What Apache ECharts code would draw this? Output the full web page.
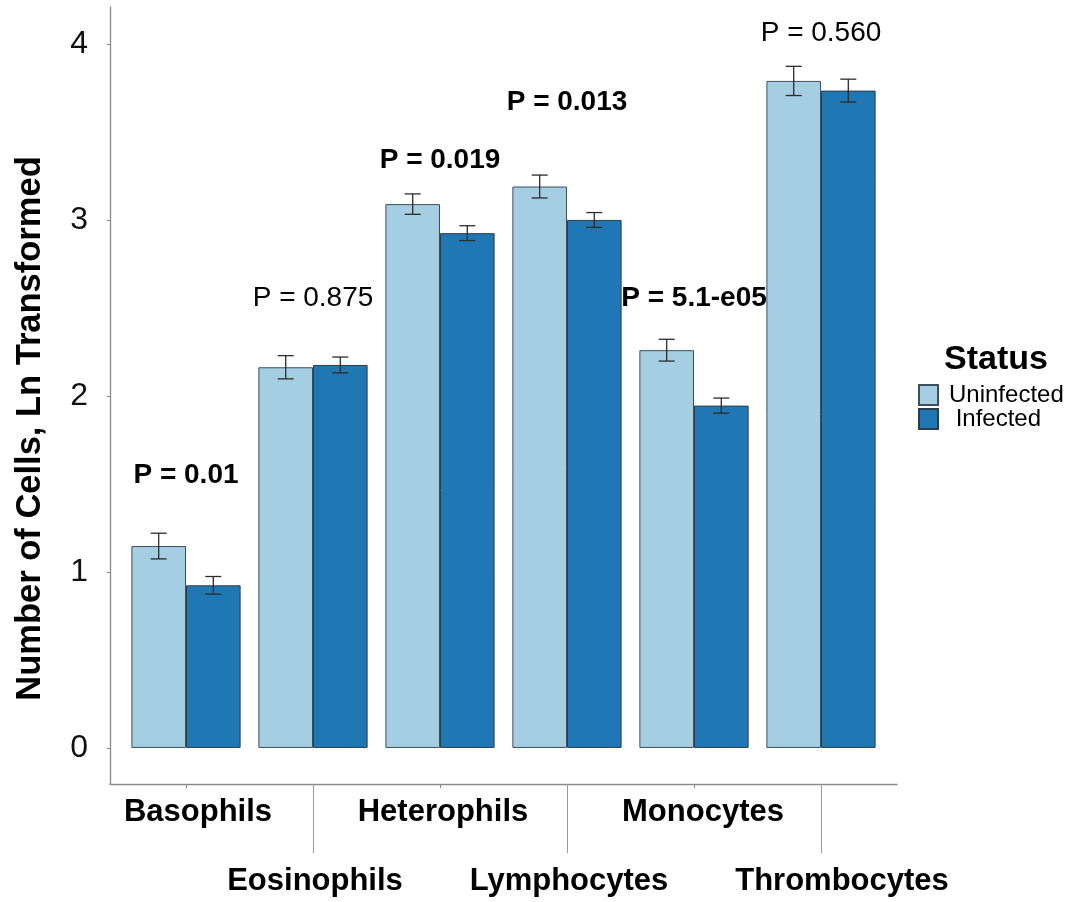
<!DOCTYPE html>
<html>
<head>
<meta charset="utf-8">
<script src="https://cdn.jsdelivr.net/npm/echarts@6/dist/echarts.min.js"></script>
<style>
html,body{margin:0;padding:0;background:#fff;}
#chart{width:1080px;height:902px;}
</style>
</head>
<body>
<div id="chart"></div>
<script>
const categories = ['Basophils','Eosinophils','Heterophils','Lymphocytes','Monocytes','Thrombocytes'];
const uninfected = [1.147, 2.163, 3.09, 3.19, 2.26, 3.79];
const infected   = [0.924, 2.176, 2.925, 3.0, 1.945, 3.735];
const errUninfected = [0.073, 0.066, 0.058, 0.065, 0.062, 0.083];
const errInfected   = [0.05, 0.045, 0.042, 0.042, 0.043, 0.065];
const pLabels = ['P = 0.01','P = 0.875','P = 0.019','P = 0.013','P = 5.1-e05','P = 0.560'];
const pY      = [1.55, 2.557, 3.34, 3.67, 2.557, 4.06];
const pBold   = [true, false, true, true, true, false];
const yTicks  = [0, 1, 2, 3, 4];

const FONT = 'Liberation Sans, Arial, Helvetica, sans-serif';
const Y_MIN = -0.205, Y_MAX = 4.21;
const LIGHT = '#a6cee3', DARK = '#1f78b4';

const chart = echarts.init(document.getElementById('chart'));

function errSeries(name, means, errs, side){
  return {
    type: 'custom', name: name + ' SE', xAxisIndex: 0, yAxisIndex: 0, z: 5,
    data: means.map((m, i) => [i, m, errs[i]]),
    renderItem: function(params, api){
      const i = api.value(0), m = api.value(1), e = api.value(2);
      const band = api.size([1, 0])[0];
      const c = api.coord([i, m]);
      const x = c[0] + side * band * 0.215;
      const yHi = api.coord([i, m + e])[1];
      const yLo = api.coord([i, m - e])[1];
      const hw = 8;
      const st = {stroke: '#2b2b2b', lineWidth: 1.3};
      return {type: 'group', children: [
        {type: 'line', shape: {x1: x, y1: yHi, x2: x, y2: yLo}, style: st},
        {type: 'line', shape: {x1: x - hw, y1: yHi, x2: x + hw, y2: yHi}, style: st},
        {type: 'line', shape: {x1: x - hw, y1: yLo, x2: x + hw, y2: yLo}, style: st}
      ]};
    }
  };
}

// label layout styles (leading indents reproduce the original label placement)
const labelRich = {
  a: {fontFamily: FONT, fontSize: 31, fontWeight: 'bold', color: '#000', lineHeight: 34},
  gap: {fontFamily: FONT, fontSize: 10, lineHeight: 69},
  i0: {width: 24, fontSize: 10, lineHeight: 34},
  i1: {width: 4, fontSize: 10, lineHeight: 34},
  i2: {width: 6, fontSize: 10, lineHeight: 34},
  i3: {width: 4, fontSize: 10, lineHeight: 34},
  i4: {width: 18, fontSize: 10, lineHeight: 34},
  i5: {width: 42, fontSize: 10, lineHeight: 34}
};

const option = {
  backgroundColor: '#fff',
  animation: false,
  textStyle: {fontFamily: FONT},
  title: {
    text: 'Status', left: 944, top: 343, padding: 0,
    textStyle: {fontFamily: FONT, fontSize: 34, fontWeight: 'bold', color: '#000'}
  },
  legend: {
    orient: 'vertical', left: 918, top: 383, itemWidth: 19, itemHeight: 20, itemGap: 0,
    padding: 0,
    icon: 'rect',
    data: ['Uninfected', 'Infected'],
    formatter: n => n === 'Infected' ? ' ' + n : n,
    textStyle: {fontFamily: FONT, fontSize: 24, color: '#000', lineHeight: 20, height: 20, padding: [0, 0, 0, 6]},
    selectedMode: false
  },
  grid: [
    {left: 122.5, width: 762, top: 7, height: 777},
    {left: 110, width: 787, top: 7, height: 777}
  ],
  xAxis: [
    {
      type: 'category', gridIndex: 0, data: categories,
      axisLine: {show: false, onZero: false},
      axisTick: {show: true, alignWithLabel: true, length: 4, interval: (i) => i % 2 === 0,
                 lineStyle: {color: '#888', width: 1}},
      axisLabel: {
        interval: 0, margin: 11,
        formatter: (v, i) => i % 2 === 0
          ? '{i' + i + '| }{a|' + v + '}'
          : '{gap| }\n{i' + i + '| }{a|' + v + '}',
        rich: labelRich
      }
    },
    {
      type: 'category', gridIndex: 0, data: categories, position: 'bottom',
      axisLine: {show: false, onZero: false},
      axisLabel: {show: false},
      axisTick: {show: true, alignWithLabel: true, length: 69, interval: (i) => i % 2 === 1,
                 lineStyle: {color: '#999', width: 1}}
    },
    {
      type: 'value', gridIndex: 1, min: 0, max: 1,
      axisLine: {show: true, onZero: false, lineStyle: {color: '#888', width: 1.3}},
      axisTick: {show: false}, axisLabel: {show: false}, splitLine: {show: false}
    }
  ],
  yAxis: [
    {
      type: 'value', gridIndex: 0, min: Y_MIN, max: Y_MAX,
      axisLine: {show: false}, axisTick: {show: false}, axisLabel: {show: false}, splitLine: {show: false}
    },
    {
      type: 'value', gridIndex: 1, min: Y_MIN, max: Y_MAX, splitNumber: 5,
      axisLine: {show: true, onZero: false, lineStyle: {color: '#888', width: 1.3}},
      axisTick: {show: true, length: 3, lineStyle: {color: '#888'}},
      splitLine: {show: false},
      axisLabel: {
        margin: 22, fontFamily: FONT, fontSize: 32, color: '#111',
        showMinLabel: false, showMaxLabel: false,
        formatter: v => yTicks.indexOf(Math.round(v * 1000) / 1000) >= 0 ? String(Math.round(v)) : ''
      },
      name: 'Number of Cells, Ln Transformed',
      nameLocation: 'middle', nameGap: 62,
      nameTextStyle: {fontFamily: FONT, fontSize: 34.5, fontWeight: 'bold', color: '#000', padding: [0, 66, 0, 0]}
    }
  ],
  series: [
    {
      type: 'bar', name: 'Uninfected', xAxisIndex: 0, yAxisIndex: 0, data: uninfected,
      barGap: '0%', barCategoryGap: '14%',
      itemStyle: {color: LIGHT, borderColor: '#3d4f5c', borderWidth: 1}
    },
    {
      type: 'bar', name: 'Infected', xAxisIndex: 0, yAxisIndex: 0, data: infected,
      barGap: '0%', barCategoryGap: '14%',
      itemStyle: {color: DARK, borderColor: '#2d3d48', borderWidth: 1}
    },
    errSeries('Uninfected', uninfected, errUninfected, -1),
    errSeries('Infected', infected, errInfected, 1),
    {
      type: 'scatter', name: 'P values', xAxisIndex: 0, yAxisIndex: 0, symbolSize: 0, z: 6,
      itemStyle: {opacity: 1},
      data: pY.map((y, i) => ({
        value: [i, y],
        label: {fontWeight: pBold[i] ? 'bold' : 'normal'}
      })),
      label: {
        show: true, position: 'inside', fontFamily: FONT, fontSize: 28, color: '#000',
        textBorderWidth: 0,
        formatter: p => pLabels[p.dataIndex]
      },
      silent: true
    }
  ]
};
chart.setOption(option);
</script>
</body>
</html>
